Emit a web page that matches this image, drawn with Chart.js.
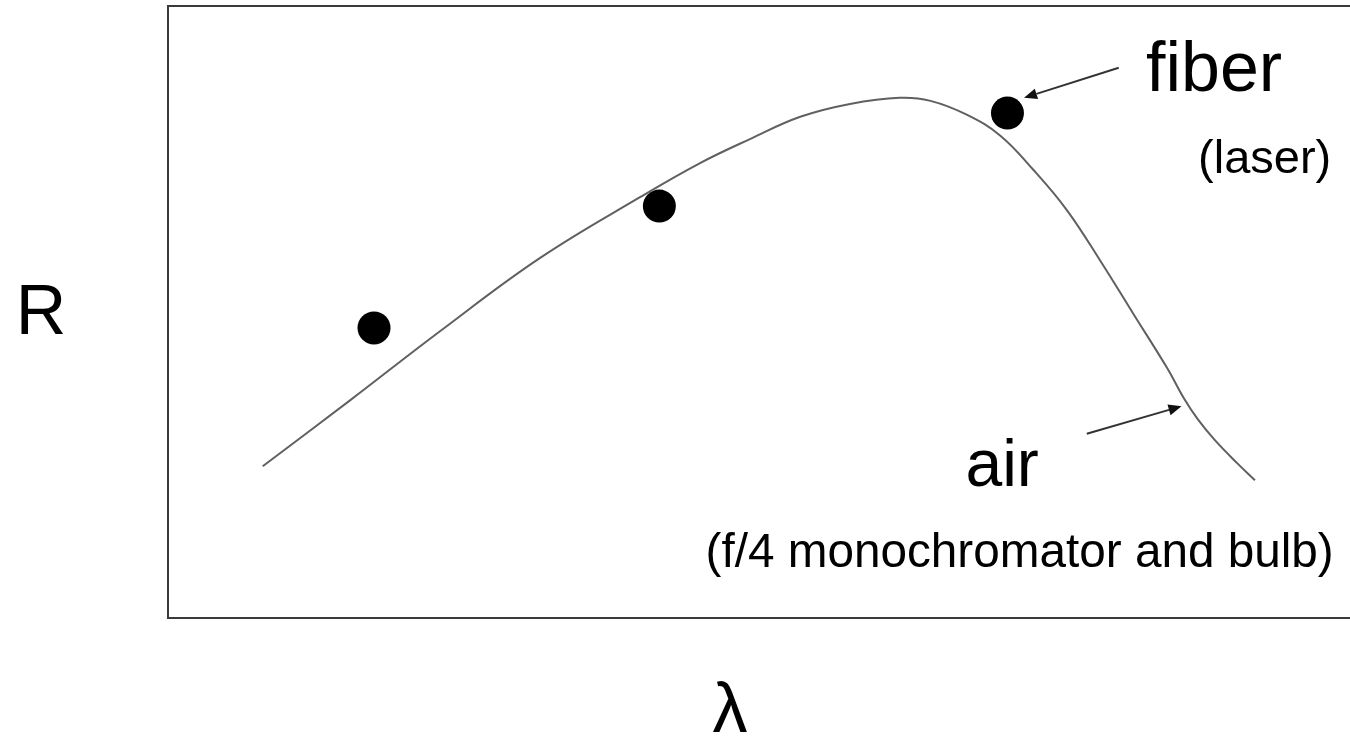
<!DOCTYPE html>
<html>
<head>
<meta charset="utf-8">
<script src="https://cdn.jsdelivr.net/npm/chart.js@4"></script>
<style>
  html, body { margin: 0; padding: 0; background: #fff; overflow: hidden; }
  #wrap { width: 1352px; height: 736px; }
</style>
</head>
<body>
<div id="wrap"><canvas id="c" width="1352" height="736"></canvas></div>
<script>
// Curve of R versus wavelength (arbitrary units, 0-100)
const curveLambda = [8.0, 15.4, 23.0, 31.4, 39.9, 44.9, 49.2, 53.4, 57.6, 61.8, 64.4, 67.5, 70.3, 73.1, 75.9, 78.7, 81.5, 84.4, 85.8, 87.0, 88.4, 90.3, 91.8];
const curveR      = [24.8, 35.6, 46.9, 58.8, 68.8, 74.3, 78.3, 81.9, 84.0, 85.0, 84.5, 82.2, 78.8, 73.2, 66.7, 58.5, 49.8, 40.8, 35.9, 32.4, 29.1, 25.3, 22.5];
// Measured points
const pointLambda = [17.4, 41.5, 70.9];
const pointR      = [47.4, 67.3, 82.5];
// Annotation labels and their anchors (data units)
const labelTexts  = ["fiber", "(laser)", "air", "(f/4 monochromator and bulb)"];
const labelLambda = [82.6, 87.0, 67.35, 45.4];
const labelR      = [86.1, 72.7, 21.6, 8.3];
// Arrows: start -> tip (data units)
const arrowFromLambda = [80.3, 77.6];
const arrowFromR      = [89.9, 30.1];
const arrowToLambda   = [72.3, 85.6];
const arrowToR        = [85.0, 34.6];
// Axis titles
const yTitle = "R";
const xTitle = "λ";

const FONT = "'Liberation Sans', Arial, Helvetica, sans-serif";
const labelSizes = [70, 47, 66, 47.7];

const curveData = curveLambda.map((x, i) => ({ x: x, y: curveR[i] }));
const pointData = pointLambda.map((x, i) => ({ x: x, y: pointR[i] }));

const decor = {
  id: 'decor',
  afterDraw(chart) {
    const ctx = chart.ctx;
    const a = chart.chartArea;
    const xs = chart.scales.x, ys = chart.scales.y;
    ctx.save();
    // frame
    ctx.strokeStyle = '#3a3a3a';
    ctx.lineWidth = 2;
    ctx.strokeRect(a.left, a.top, a.right - a.left, a.bottom - a.top);
    // arrows
    for (let i = 0; i < arrowFromLambda.length; i++) {
      const x1 = xs.getPixelForValue(arrowFromLambda[i]);
      const y1 = ys.getPixelForValue(arrowFromR[i]);
      const x2 = xs.getPixelForValue(arrowToLambda[i]);
      const y2 = ys.getPixelForValue(arrowToR[i]);
      const ang = Math.atan2(y2 - y1, x2 - x1);
      const hl = 13, hw = 5.5;
      const bx = x2 - hl * Math.cos(ang), by = y2 - hl * Math.sin(ang);
      ctx.strokeStyle = '#333';
      ctx.lineWidth = 2;
      ctx.beginPath();
      ctx.moveTo(x1, y1);
      ctx.lineTo(bx, by);
      ctx.stroke();
      ctx.fillStyle = '#111';
      ctx.beginPath();
      ctx.moveTo(x2, y2);
      ctx.lineTo(bx + hw * Math.sin(ang), by - hw * Math.cos(ang));
      ctx.lineTo(bx - hw * Math.sin(ang), by + hw * Math.cos(ang));
      ctx.closePath();
      ctx.fill();
    }
    // labels
    ctx.fillStyle = '#000';
    ctx.textAlign = 'left';
    ctx.textBaseline = 'alphabetic';
    for (let i = 0; i < labelTexts.length; i++) {
      ctx.font = labelSizes[i] + 'px ' + FONT;
      ctx.fillText(labelTexts[i], xs.getPixelForValue(labelLambda[i]), ys.getPixelForValue(labelR[i]));
    }
    // axis titles
    ctx.font = '70px ' + FONT;
    ctx.textAlign = 'center';
    ctx.fillText(yTitle, a.left - 127, a.top + 328);
    ctx.fillText(xTitle, a.left + 562, a.bottom + 114);
    ctx.restore();
  }
};

new Chart(document.getElementById('c'), {
  type: 'scatter',
  data: {
    datasets: [
      {
        data: curveData,
        showLine: true,
        borderColor: '#606060',
        borderWidth: 2,
        pointRadius: 0,
        tension: 0.4,
        fill: false,
        order: 2
      },
      {
        data: pointData,
        showLine: false,
        pointRadius: 16.5,
        pointBackgroundColor: '#000',
        pointBorderColor: '#000',
        pointBorderWidth: 0,
        order: 1
      }
    ]
  },
  options: {
    responsive: false,
    animation: false,
    events: [],
    layout: { autoPadding: false, padding: { left: 168, top: 6, right: 0, bottom: 118 } },
    plugins: { legend: { display: false }, tooltip: { enabled: false }, title: { display: false } },
    scales: {
      x: { type: 'linear', min: 0, max: 100, display: false },
      y: { type: 'linear', min: 0, max: 100, display: false }
    }
  },
  plugins: [decor]
});
</script>
</body>
</html>
